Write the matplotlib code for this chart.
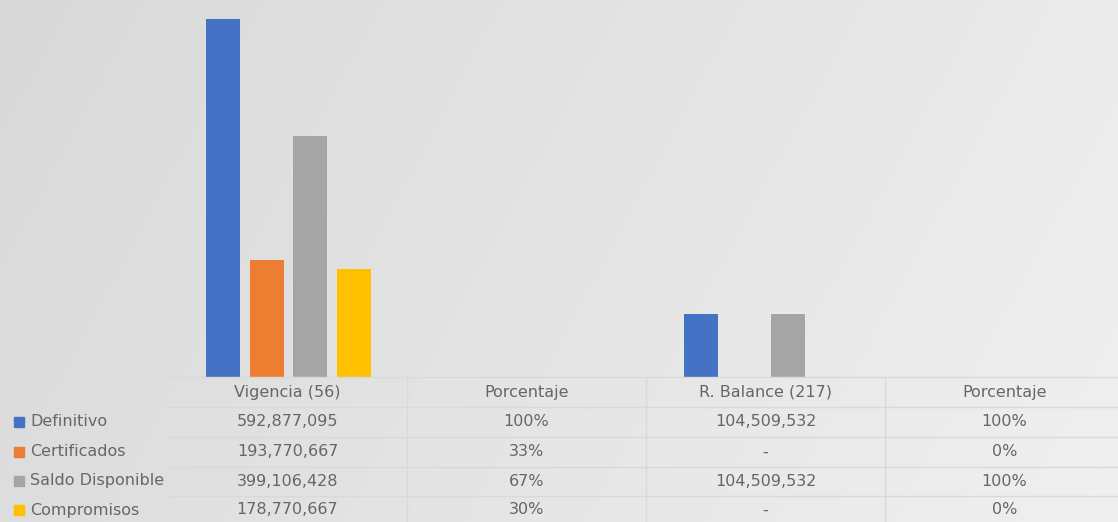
import matplotlib
matplotlib.use("Agg")
import matplotlib.pyplot as plt
import matplotlib.transforms as mtransforms
from matplotlib.patches import Rectangle
import numpy as np

categories = ["Vigencia (56)", "Porcentaje", "R. Balance (217)", "Porcentaje"]
series = ["Definitivo", "Certificados", "Saldo Disponible", "Compromisos"]
colors = ["#4472C4", "#ED7D31", "#A5A5A5", "#FFC000"]

definitivo = [592877095, 1.00, 104509532, 1.00]
certificados = [193770667, 0.33, 0, 0.00]
saldo = [399106428, 0.67, 104509532, 1.00]
compromisos = [178770667, 0.30, 0, 0.00]
values = [definitivo, certificados, saldo, compromisos]

cell_text = [
    ["592,877,095", "100%", "104,509,532", "100%"],
    ["193,770,667", "33%", "-", "0%"],
    ["399,106,428", "67%", "104,509,532", "100%"],
    ["178,770,667", "30%", "-", "0%"],
]

W, H = 1118, 522
fig = plt.figure(figsize=(W / 100, H / 100), dpi=100)

# background gradient
bg = fig.add_axes([0, 0, 1, 1], zorder=-10)
xx, yy = np.meshgrid(np.linspace(0, 1, 300), np.linspace(0, 1, 150))
grad = 0.85 + 0.09 * np.clip(0.8 * xx + 0.2 * yy, 0, 1)
bg.imshow(np.dstack([grad] * 3), aspect="auto", extent=[0, 1, 1, 0])
bg.axis("off")

text_color = "#666666"
line_color = "#d9d9d9"
plt.rcParams["font.family"] = ["DejaVu Sans"]

base_px = 377
left_px = 168
col_px = 239
ax = fig.add_axes([left_px / W, 1 - base_px / H, (W - left_px) / W, base_px / H])
ax.patch.set_alpha(0)
ncat = len(categories)
xlim_right = -0.5 + (W - left_px) / col_px
ax.set_xlim(-0.5, xlim_right)
ax.set_ylim(0, 624e6)

step = 43.5 / col_px
bw = 34 / col_px
x = np.arange(ncat)
for j, (name, vals, c) in enumerate(zip(series, values, colors)):
    ax.bar(x + (j - 1.5) * step + 1 / col_px, vals, width=bw, color=c, label=name)

for s in ax.spines.values():
    s.set_visible(False)
ax.set_xticks([])
ax.set_yticks([])

# data table
trans = mtransforms.blended_transform_factory(ax.transData, ax.transAxes)
def ay(py):
    return (base_px - py) / base_px

row_lines = [377, 407, 437, 467, 496]
for py in row_lines:
    ax.plot([-0.5, xlim_right], [ay(py), ay(py)], transform=trans,
            color=line_color, lw=1.0, clip_on=False)
for i in range(1, ncat):
    ax.plot([i - 0.5, i - 0.5], [ay(377), ay(H)], transform=trans,
            color=line_color, lw=1.0, clip_on=False)

header_y = 392
row_y = [422, 452, 481, 510]
for i, cat in enumerate(categories):
    ax.text(i, ay(header_y), cat, transform=trans, ha="center", va="center",
            fontsize=11.5, color=text_color, clip_on=False)
for r in range(len(series)):
    for i in range(ncat):
        ax.text(i, ay(row_y[r]), cell_text[r][i], transform=trans, ha="center",
                va="center", fontsize=11.5, color=text_color, clip_on=False)

# legend keys in table
for r, (name, c) in enumerate(zip(series, colors)):
    yc = row_y[r]
    fig.patches.append(Rectangle((14 / W, 1 - (yc + 5) / H), 10 / W, 10 / H,
                                 transform=fig.transFigure, color=c))
    fig.text(30 / W, 1 - yc / H, name, ha="left", va="center",
             fontsize=11.5, color=text_color)

fig.savefig("out.png", dpi=100)
